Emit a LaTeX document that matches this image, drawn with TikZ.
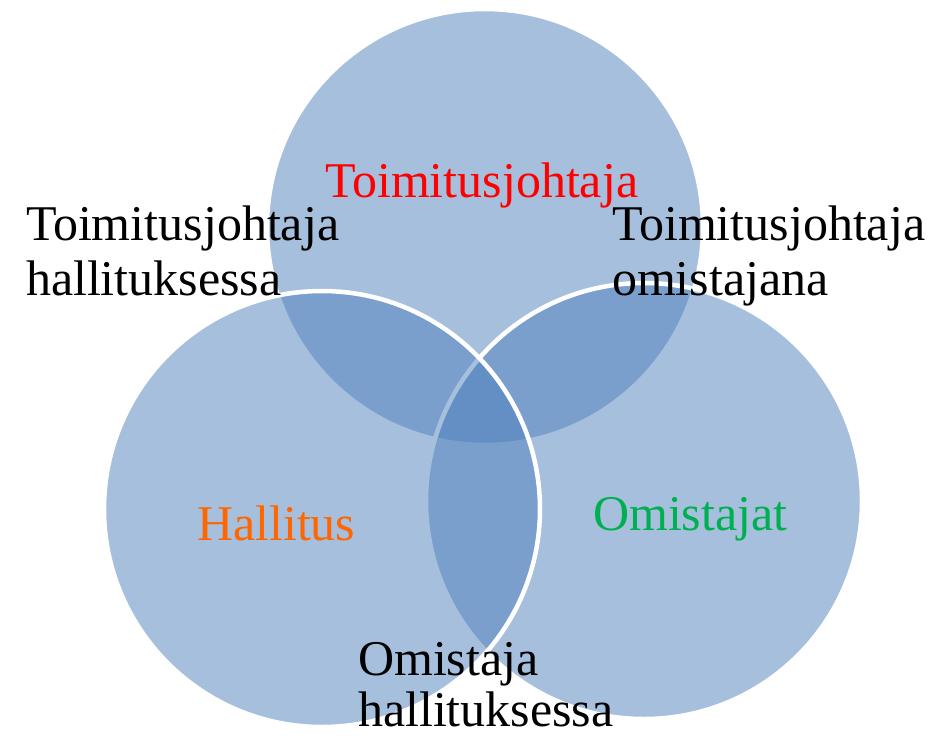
\documentclass[tikz,border=0pt]{standalone}
\usepackage{fontspec}
\setmainfont{Liberation Serif}
\definecolor{vennblue}{HTML}{4F81BD}
\definecolor{txtorange}{HTML}{FF6600}
\definecolor{txtgreen}{HTML}{00B050}
\begin{document}
\begin{tikzpicture}[x=1pt,y=-1pt,
  venn/.style={circle,minimum size=436pt,inner sep=0pt,outer sep=0pt,
    fill=vennblue,fill opacity=0.5,draw=white,draw opacity=1,line width=4.5pt},
  lbl/.style={inner sep=0pt,outer sep=0pt,anchor=base west,align=left,
    font=\fontsize{50}{55}\selectfont}]
  \fill[white] (0,0) rectangle (940,737);
  \useasboundingbox (0,0) rectangle (940,737);
  \node[venn] (ctop) at (485,227) {};
  \node[venn] (cright) at (644,501) {};
  \node[venn] (cleft) at (322,509) {};
  \node[lbl,text=red] (ttop) at (325,197) {Toimitusjohtaja};
  \node[lbl,text=txtorange] (tleft) at (197,540) {Hallitus};
  \node[lbl,text=txtgreen] (tright) at (593,530) {Omistajat};
  \node[lbl] (tlt) at (26,295) {Toimitusjohtaja\\hallituksessa};
  \node[lbl] (trt) at (612,295) {Toimitusjohtaja\\omistajana};
  \node[lbl,font=\fontsize{50}{51}\selectfont] (tbot) at (358,726) {Omistaja\\hallituksessa};
\end{tikzpicture}
\end{document}
